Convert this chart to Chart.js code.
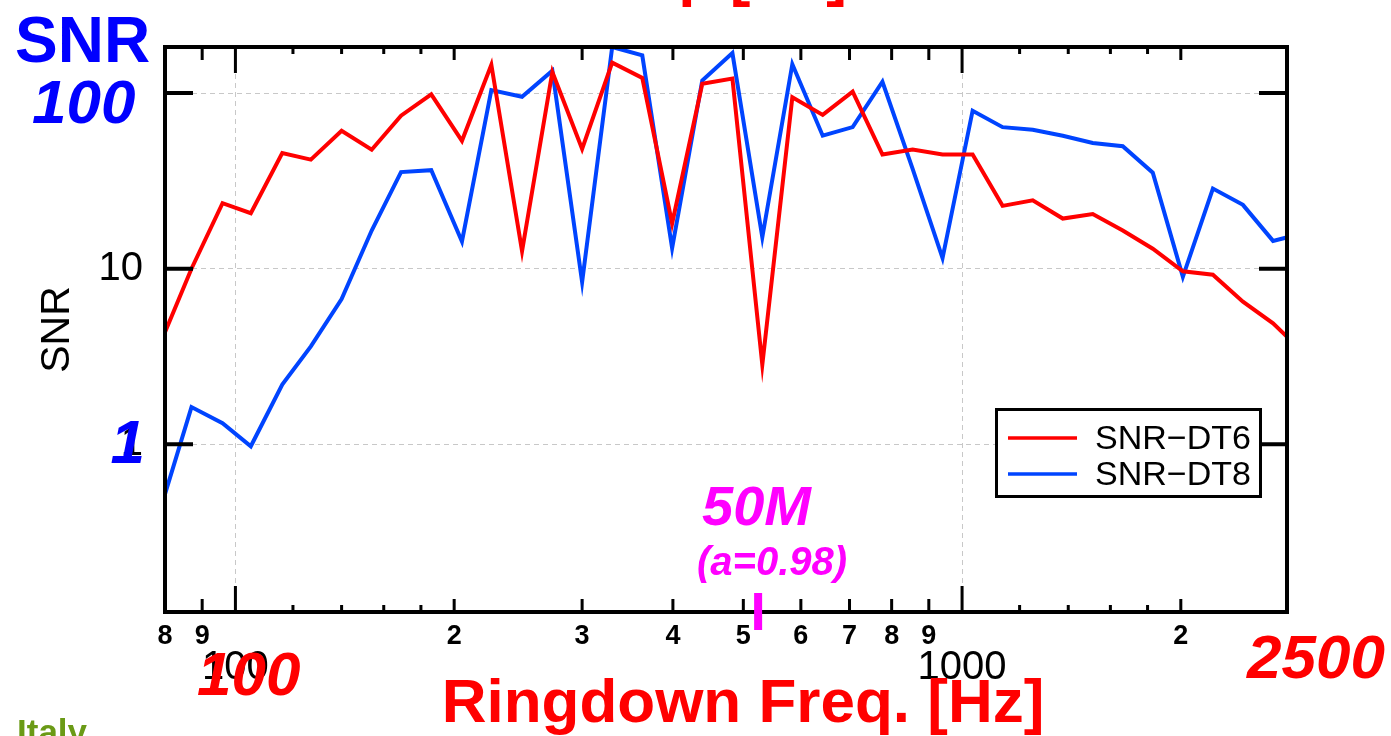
<!DOCTYPE html>
<html>
<head>
<meta charset="utf-8">
<title>SNR vs Ringdown Freq.</title>
<script src="https://cdn.jsdelivr.net/npm/chart.js@4.4.1/dist/chart.umd.min.js"></script>
<style>
  html, body { margin: 0; padding: 0; background: #fff; overflow: hidden; }
  #wrap { width: 1391px; height: 736px; position: relative; }
</style>
</head>
<body>
<div id="wrap"><canvas id="chart" width="1391" height="736"></canvas></div>
<script>
// ringdown frequency of each sample [Hz]
const freqHz = [80, 87, 96, 105, 116, 127, 140, 154, 169, 186, 205, 225, 248, 273, 300, 330, 363, 399, 439,
    483, 531, 584, 643, 707, 777, 855, 940, 1034, 1137, 1251, 1376, 1513, 1664, 1830, 2013, 2214, 2435, 2679, 2946];

const snrDT6 = [4.35, 10.0, 23.6, 20.7, 45.6, 41.8, 61, 47.6, 74.4, 98.3, 53.5, 145, 12.6, 132, 48.1, 149, 122, 18.1, 113,
    121, 2.84, 94.6, 75.1, 102, 44.7, 47.7, 44.7, 44.7, 22.8, 24.5, 19.3, 20.5, 16.5, 13.0, 9.66, 9.25, 6.49, 4.89, 3.35];

const snrDT8 = [0.52, 1.63, 1.32, 0.975, 2.19, 3.61, 6.71, 16.5, 35.5, 36.4, 14.3, 104, 95.3, 134, 8.41, 183, 164, 13.1, 118,
    169, 15.1, 146, 57.2, 64, 116, 37, 11.5, 79.4, 64, 61.8, 57.2, 52, 49.8, 35.2, 8.98, 28.6, 23.1, 14.4, 15.9];

const seriesLabels = ['SNR\u2212DT6', 'SNR\u2212DT8'];
const seriesColors = ['#ff0000', '#0044ff'];

// axis ticks
const xTickValues = [80, 90, 100, 200, 300, 400, 500, 600, 700, 800, 900, 1000, 2000];
const xTickLabels = ['8', '9', ['', '100'], '2', '3', '4', '5', '6', '7', '8', '9', ['', '1000'], '2'];
const xMajorTicks = [100, 1000];
const xMidTicks = [90, 200, 300, 400, 500, 600, 700, 800, 900, 2000];
const xMinorTicks = [120, 140, 160, 180, 1200, 1400, 1600, 1800];
const yTickValues = [1, 10, 100];
const yTickLabels = ['1', '10', ''];   // 100 is covered by the blue label

const markerFreq = 524; // 50M (a=0.98)

const FONT = "'Liberation Sans', Arial, Helvetica, sans-serif";

// box round the plot and inward tick marks
const frameAndTicks = {
    id: 'frameAndTicks',
    afterDatasetsDraw(chart) {
        const { ctx, chartArea: a, scales: { x, y } } = chart;
        ctx.save();
        ctx.strokeStyle = '#000';
        const drawX = (vals, len, w) => {
            ctx.lineWidth = w;
            vals.forEach(v => {
                const px = x.getPixelForValue(v);
                ctx.beginPath();
                ctx.moveTo(px, a.bottom);
                ctx.lineTo(px, a.bottom - len);
                ctx.moveTo(px, a.top);
                ctx.lineTo(px, a.top + len);
                ctx.stroke();
            });
        };
        drawX(xMinorTicks, 7, 3);
        drawX(xMidTicks, 13, 3);
        drawX(xMajorTicks, 26, 3);

        ctx.lineWidth = 4;
        yTickValues.forEach(v => {
            const py = y.getPixelForValue(v);
            ctx.beginPath();
            ctx.moveTo(a.left, py);
            ctx.lineTo(a.left + 28, py);
            ctx.moveTo(a.right, py);
            ctx.lineTo(a.right - 28, py);
            ctx.stroke();
        });
        ctx.strokeRect(a.left, a.top, a.right - a.left, a.bottom - a.top);
        ctx.restore();
    }
};

// boxed legend, bottom right of the plot
const boxLegend = {
    id: 'boxLegend',
    afterDraw(chart) {
        const { ctx } = chart;
        ctx.save();
        ctx.fillStyle = '#fff';
        ctx.fillRect(995, 408, 267, 90);
        ctx.strokeStyle = '#000';
        ctx.lineWidth = 3;
        ctx.strokeRect(996.5, 409.5, 264, 87);
        ctx.font = '34px ' + FONT;
        ctx.textBaseline = 'alphabetic';
        chart.data.datasets.forEach((ds, i) => {
            const yy = 438 + i * 36;
            ctx.strokeStyle = ds.borderColor;
            ctx.lineWidth = 3.5;
            ctx.beginPath();
            ctx.moveTo(1008, yy);
            ctx.lineTo(1077, yy);
            ctx.stroke();
            ctx.fillStyle = '#000';
            ctx.fillText(ds.label, 1095, yy + 11);
        });
        ctx.restore();
    }
};

// coloured overlay labels from the slide
const overlayText = {
    id: 'overlayText',
    afterDraw(chart) {
        const { ctx, scales: { x }, chartArea: a } = chart;
        ctx.save();
        const put = (txt, px, py, font, color, align) => {
            ctx.font = font;
            ctx.fillStyle = color;
            ctx.textAlign = align || 'left';
            ctx.textBaseline = 'alphabetic';
            ctx.fillText(txt, px, py);
        };
        put('Freq. [Hz]', 561, -6, 'bold 62px ' + FONT, '#ff0000');
        put('SNR', 15, 62, 'bold 64px ' + FONT, '#0000ff');
        put('100', 32, 123, 'italic bold 62px ' + FONT, '#0000ff');
        put('1', 145, 463, 'italic bold 62px ' + FONT, '#0000ff', 'right');
        put('100', 197, 695, 'italic bold 62px ' + FONT, '#ff0000');
        put('2500', 1247, 678, 'italic bold 62px ' + FONT, '#ff0000');
        put('Ringdown Freq. [Hz]', 743, 722, 'bold 62px ' + FONT, '#ff0000', 'center');
        put('50M', 702, 525, 'italic bold 56px ' + FONT, '#ff00ff');
        put('(a=0.98)', 697, 575, 'italic bold 40px ' + FONT, '#ff00ff');
        put('Italy', 17, 744, 'bold 35px ' + FONT, '#6a9a16');

        // marker of the 50M ringdown frequency
        const mx = x.getPixelForValue(markerFreq);
        ctx.fillStyle = '#ff00ff';
        ctx.fillRect(mx - 4, a.bottom - 19, 8, 37);
        ctx.restore();
    }
};

const ctx = document.getElementById('chart').getContext('2d');
new Chart(ctx, {
    type: 'line',
    data: {
        datasets: [snrDT6, snrDT8].map((vals, i) => ({
            label: seriesLabels[i],
            data: freqHz.map((f, j) => ({ x: f, y: vals[j] })),
            borderColor: seriesColors[i],
            backgroundColor: seriesColors[i],
            borderWidth: 4,
            pointRadius: 0,
            tension: 0
        }))
    },
    options: {
        responsive: false,
        animation: false,
        devicePixelRatio: 1,
        layout: { padding: { top: 47, right: 104, bottom: 0, left: 0 } },
        plugins: {
            legend: { display: false },
            tooltip: { enabled: false }
        },
        scales: {
            x: {
                type: 'logarithmic',
                min: 80,
                max: 2800,
                afterBuildTicks: scale => { scale.ticks = xTickValues.map(v => ({ value: v })); },
                afterFit: scale => { scale.height = 124; },
                grid: {
                    drawTicks: false,
                    lineWidth: 1,
                    color: c => (c.tick && xMajorTicks.includes(c.tick.value)) ? '#c8c8c8' : 'rgba(0,0,0,0)'
                },
                border: { display: false, dash: [5, 4] },
                ticks: {
                    autoSkip: false,
                    maxRotation: 0,
                    padding: 8,
                    color: '#000',
                    font: c => (c.tick && xMajorTicks.includes(c.tick.value))
                        ? { family: FONT, size: 40, lineHeight: 0.8 }
                        : { family: FONT, size: 27, weight: 'bold' },
                    callback: (v, i) => xTickLabels[i]
                }
            },
            y: {
                type: 'logarithmic',
                min: 0.111,
                max: 183,
                afterBuildTicks: scale => { scale.ticks = yTickValues.map(v => ({ value: v })); },
                afterFit: scale => { scale.width = 165; },
                grid: { drawTicks: false, lineWidth: 1, color: '#c8c8c8' },
                border: { display: false, dash: [5, 4] },
                ticks: {
                    padding: 22,
                    color: '#000',
                    font: { family: FONT, size: 40 },
                    callback: (v, i) => yTickLabels[i]
                },
                title: {
                    display: true,
                    text: 'SNR',
                    color: '#000',
                    font: { family: FONT, size: 41 },
                    padding: { top: 33, bottom: 0 }
                }
            }
        }
    },
    plugins: [frameAndTicks, boxLegend, overlayText]
});
</script>
</body>
</html>
